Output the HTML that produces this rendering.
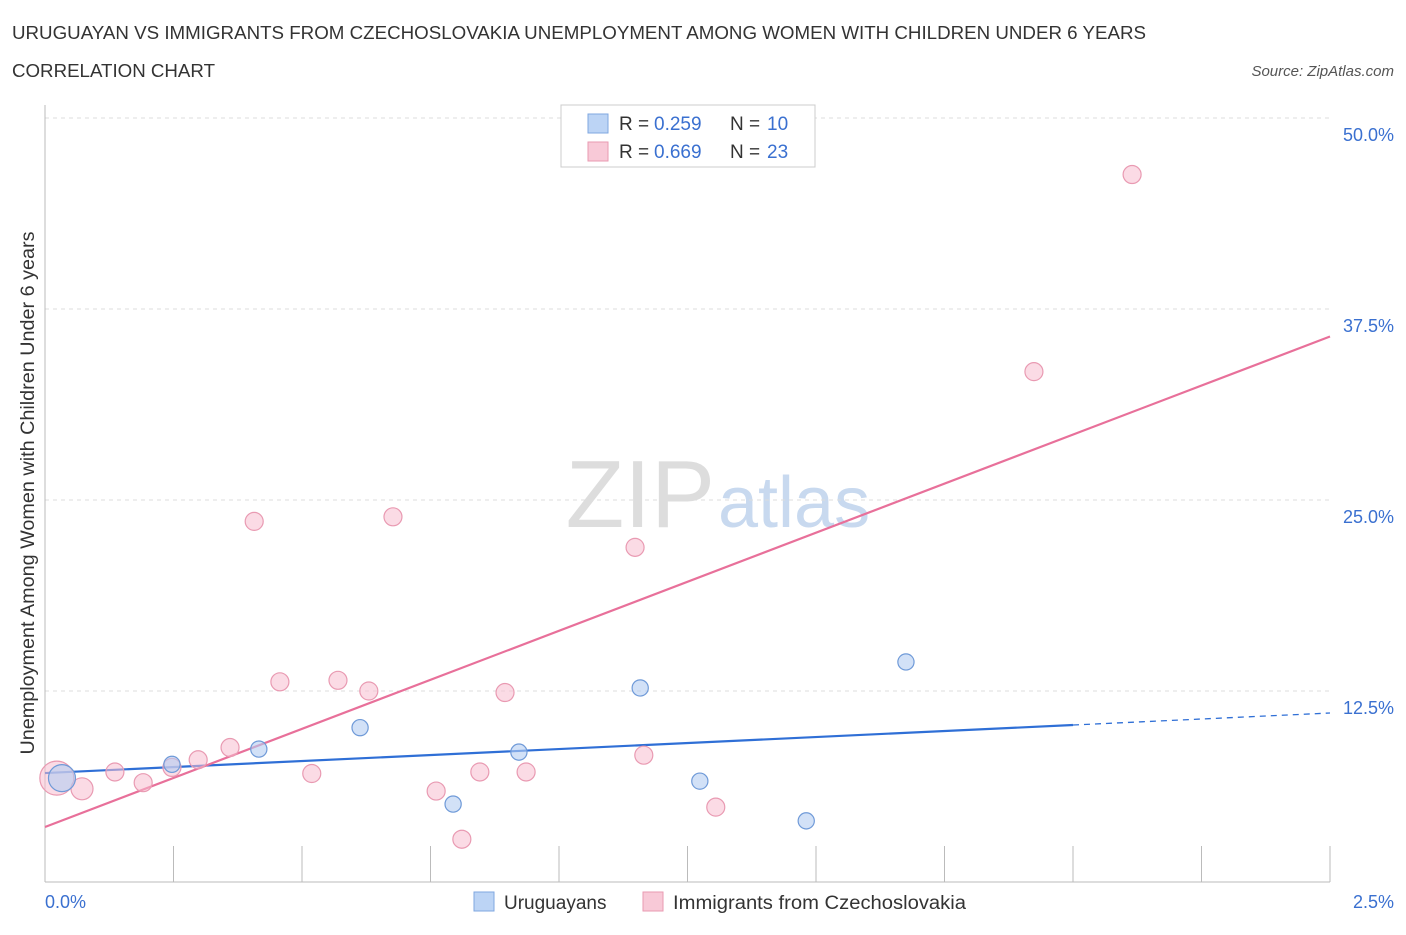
<!DOCTYPE html>
<html><head><meta charset="utf-8"><style>
body{margin:0;background:#fff;font-family:"Liberation Sans",sans-serif;}
svg text{font-family:"Liberation Sans",sans-serif;}
</style></head><body>
<svg id="c" width="1406" height="930">
<text x="12" y="39" font-size="18" fill="#333" textLength="1134" lengthAdjust="spacingAndGlyphs">URUGUAYAN VS IMMIGRANTS FROM CZECHOSLOVAKIA UNEMPLOYMENT AMONG WOMEN WITH CHILDREN UNDER 6 YEARS</text>
<text x="12" y="77" font-size="18" fill="#333" textLength="203" lengthAdjust="spacingAndGlyphs">CORRELATION CHART</text>
<text x="1394" y="76" font-size="15" fill="#555" font-style="italic" text-anchor="end">Source: ZipAtlas.com</text>
<text x="715" y="527" font-size="96" fill="#ddd" text-anchor="end" font-family="Liberation Serif">ZIP</text>
<text x="718" y="527" font-size="72" fill="#c8d9ef">atlas</text>
<g id="grid"></g><g id="axes"></g><g id="lines"></g><g id="pts"></g>
<text transform="translate(34,493) rotate(-90)" font-size="19" fill="#333" text-anchor="middle" textLength="523" lengthAdjust="spacingAndGlyphs">Unemployment Among Women with Children Under 6 years</text>
<text x="45" y="908" font-size="18" fill="#3a70d0">0.0%</text>
<text x="1394" y="908" font-size="18" fill="#3a70d0" text-anchor="end">2.5%</text>
<g>
<rect x="561" y="105" width="254" height="62" fill="#fff" stroke="#ccc"/>
<rect x="588" y="114" width="20" height="19" fill="#bcd4f5" stroke="#7fa7e0"/>
<rect x="588" y="142" width="20" height="19" fill="#f8c9d7" stroke="#e99ab2"/>
<text x="619" y="130" font-size="19" fill="#333">R =</text>
<text x="654" y="130" font-size="19" fill="#3a70d0">0.259</text>
<text x="730" y="130" font-size="19" fill="#333">N =</text>
<text x="767" y="130" font-size="19" fill="#3a70d0">10</text>
<text x="619" y="158" font-size="19" fill="#333">R =</text>
<text x="654" y="158" font-size="19" fill="#3a70d0">0.669</text>
<text x="730" y="158" font-size="19" fill="#333">N =</text>
<text x="767" y="158" font-size="19" fill="#3a70d0">23</text>
</g>
<g>
<rect x="474" y="892" width="20" height="19" fill="#bcd4f5" stroke="#7fa7e0"/>
<text x="504" y="909" font-size="19" fill="#333">Uruguayans</text>
<rect x="643" y="892" width="20" height="19" fill="#f8c9d7" stroke="#e99ab2"/>
<text x="673" y="909" font-size="19" fill="#333" textLength="293" lengthAdjust="spacingAndGlyphs">Immigrants from Czechoslovakia</text>
</g>
</svg>
<script>
const yTicks=[12.5,25,37.5,50];
const yTickLabels=["12.5%","25.0%","37.5%","50.0%"];
const xTicks=[0,0.25,0.5,0.75,1,1.25,1.5,1.75,2,2.25,2.5];
const blueX=[0.033,0.247,0.416,0.613,0.794,0.922,1.158,1.274,1.481,1.675];
const blueY=[6.8,7.7,8.7,10.1,5.1,8.5,12.7,6.6,4.0,14.4];
const blueR=[15,9,9,9,9,9,9,9,9,9];
const pinkX=[0.023,0.072,0.136,0.191,0.247,0.298,0.360,0.407,0.457,0.519,0.570,0.630,0.677,0.761,0.811,0.846,0.895,0.936,1.148,1.165,1.305,1.924,2.115];
const pinkY=[6.8,6.1,7.2,6.5,7.5,8.0,8.8,23.6,13.1,7.1,13.2,12.5,23.9,5.95,2.8,7.2,12.4,7.2,21.9,8.3,4.9,33.4,46.3];
const pinkR=[17,11,9,9,9,9,9,9,9,9,9,9,9,9,9,9,9,9,9,9,9,9,9];
const blueTrend=[7.13,11.06];
const pinkTrend=[3.6,35.7];
const blueSolidEnd=2.0;
const X=v=>45+v/2.5*1285, Y=v=>882-v/50*764;
const NS="http://www.w3.org/2000/svg";
function mk(p,t,a){const e=document.createElementNS(NS,t);for(const k in a)e.setAttribute(k,a[k]);document.getElementById(p).appendChild(e);return e;}
yTicks.forEach((t,i)=>{
 const l=mk('grid','line',{x1:45,x2:1330,y1:Y(t),y2:Y(t),stroke:'#ddd','stroke-dasharray':'4,4'});
 
 
 const tx=mk('grid','text',{x:1394,y:Y(t)+23,'font-size':18,fill:'#3a70d0','text-anchor':'end'});
 tx.textContent=yTickLabels[i];
 
 
});
const ax=mk('axes','line',{x1:45,x2:1330,y1:882,y2:882,stroke:'#bbb'});


const ay=mk('axes','line',{x1:45,x2:45,y1:105,y2:882,stroke:'#bbb'});


xTicks.forEach(t=>{const l=mk('axes','line',{x1:X(t),x2:X(t),y1:846,y2:882,stroke:'#bbb'});
 
 });
const by=x=>blueTrend[0]+(blueTrend[1]-blueTrend[0])*x/2.5;
let l1=mk('lines','line',{x1:X(0),y1:Y(by(0)),x2:X(blueSolidEnd),y2:Y(by(blueSolidEnd)),stroke:'#2f6fd6','stroke-width':2.2});


let l2=mk('lines','line',{x1:X(blueSolidEnd),y1:Y(by(blueSolidEnd)),x2:X(2.5),y2:Y(by(2.5)),stroke:'#2f6fd6','stroke-width':1.3,'stroke-dasharray':'6,5'});


let l3=mk('lines','line',{x1:X(0),y1:Y(pinkTrend[0]),x2:X(2.5),y2:Y(pinkTrend[1]),stroke:'#e8709a','stroke-width':2.2});


pinkX.forEach((x,i)=>{const c=mk('pts','circle',{cx:X(x),cy:Y(pinkY[i]),r:pinkR[i],fill:'rgba(248,190,208,0.55)',stroke:'#e99ab2','stroke-width':1.2});
 
 });
blueX.forEach((x,i)=>{const c=mk('pts','circle',{cx:X(x),cy:Y(blueY[i]),r:blueR[i]*0.9,fill:'rgba(180,205,242,0.6)',stroke:'#6f9ad8','stroke-width':1.2});
 
 });
</script>
</body></html>
